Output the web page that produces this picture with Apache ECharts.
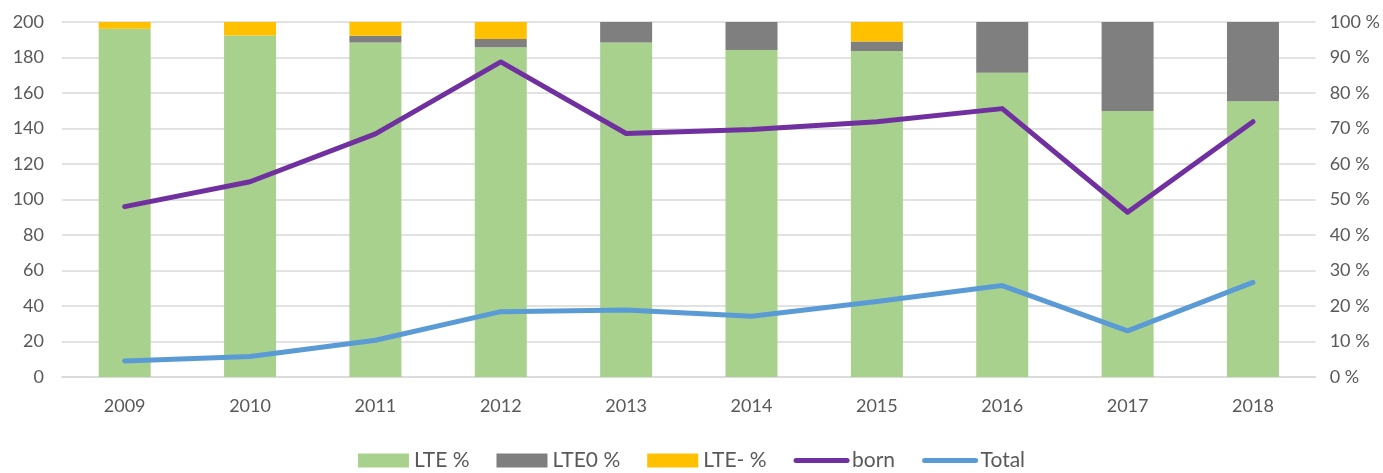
<!DOCTYPE html>
<html>
<head>
<meta charset="utf-8">
<script src="https://cdn.jsdelivr.net/npm/echarts@6/dist/echarts.min.js"></script>
<style>
  html, body { margin: 0; padding: 0; background: #fff; }
  #main { width: 1383px; height: 473px; }
</style>
</head>
<body>
<div id="main"></div>
<script>
var years = ['2009', '2010', '2011', '2012', '2013', '2014', '2015', '2016', '2017', '2018'];
// shares in percent (right axis)
var ltePct = [98.1, 96.2, 94.2, 92.9, 94.2, 92.1, 91.8, 85.7, 74.9, 77.7];
var lte0Pct = [0, 0, 1.9, 2.3, 5.8, 7.9, 2.7, 14.3, 25.1, 22.3];
var lteMinusPct = [1.9, 3.8, 3.9, 4.8, 0, 0, 5.5, 0, 0, 0];
// counts (left axis)
var born = [96, 110, 137, 177.5, 137.2, 139.5, 143.8, 151.2, 92.8, 143.8];
var total = [9, 11.5, 20.7, 36.8, 37.8, 34.2, 42.5, 51.5, 26, 53.3];

var chart = echarts.init(document.getElementById('main'));
var font = 'Lato, "Liberation Sans", sans-serif';
var gray = '#595959';

var option = {
  animation: false,
  textStyle: { fontFamily: font },
  grid: { left: 62, right: 63, top: 22, bottom: 96 },
  legend: {
    top: 445,
    left: 'center',
    itemGap: 27,
    itemWidth: 51,
    itemHeight: 14,
    textStyle: { color: gray, fontSize: 21, fontFamily: font },
    data: [
      { name: 'LTE %', icon: 'rect' },
      { name: 'LTE0 %', icon: 'rect' },
      { name: 'LTE- %', icon: 'rect' },
      { name: 'born', itemStyle: { opacity: 0 }, lineStyle: { width: 5, cap: 'round' } },
      { name: 'Total', itemStyle: { opacity: 0 }, lineStyle: { width: 5, cap: 'round' } }
    ]
  },
  xAxis: {
    type: 'category',
    data: years,
    axisLine: { lineStyle: { color: '#d9d9d9', width: 1.5 } },
    axisTick: { show: false },
    axisLabel: { color: gray, fontSize: 18, margin: 20 }
  },
  yAxis: [
    {
      type: 'value', min: 0, max: 200, interval: 20,
      axisLine: { show: false }, axisTick: { show: false },
      axisLabel: { color: gray, fontSize: 18, margin: 18 },
      splitLine: { lineStyle: { color: '#d9d9d9', width: 1.5 } }
    },
    {
      type: 'value', min: 0, max: 100, interval: 10,
      axisLine: { show: false }, axisTick: { show: false },
      axisLabel: { color: gray, fontSize: 18, margin: 14, formatter: '{value} %' },
      splitLine: { show: false }
    }
  ],
  series: [
    { name: 'LTE %', type: 'bar', stack: 'p', yAxisIndex: 1, barWidth: 52, data: ltePct, itemStyle: { color: '#a9d18e' } },
    { name: 'LTE0 %', type: 'bar', stack: 'p', yAxisIndex: 1, data: lte0Pct, itemStyle: { color: '#7f7f7f' } },
    { name: 'LTE- %', type: 'bar', stack: 'p', yAxisIndex: 1, data: lteMinusPct, itemStyle: { color: '#ffc000' } },
    { name: 'born', type: 'line', yAxisIndex: 0, data: born, symbol: 'none', z: 5,
      lineStyle: { color: '#7030a0', width: 5, cap: 'round', join: 'round' }, itemStyle: { color: '#7030a0' } },
    { name: 'Total', type: 'line', yAxisIndex: 0, data: total, symbol: 'none', z: 5,
      lineStyle: { color: '#5b9bd5', width: 5, cap: 'round', join: 'round' }, itemStyle: { color: '#5b9bd5' } }
  ]
};
chart.setOption(option);
</script>
</body>
</html>
